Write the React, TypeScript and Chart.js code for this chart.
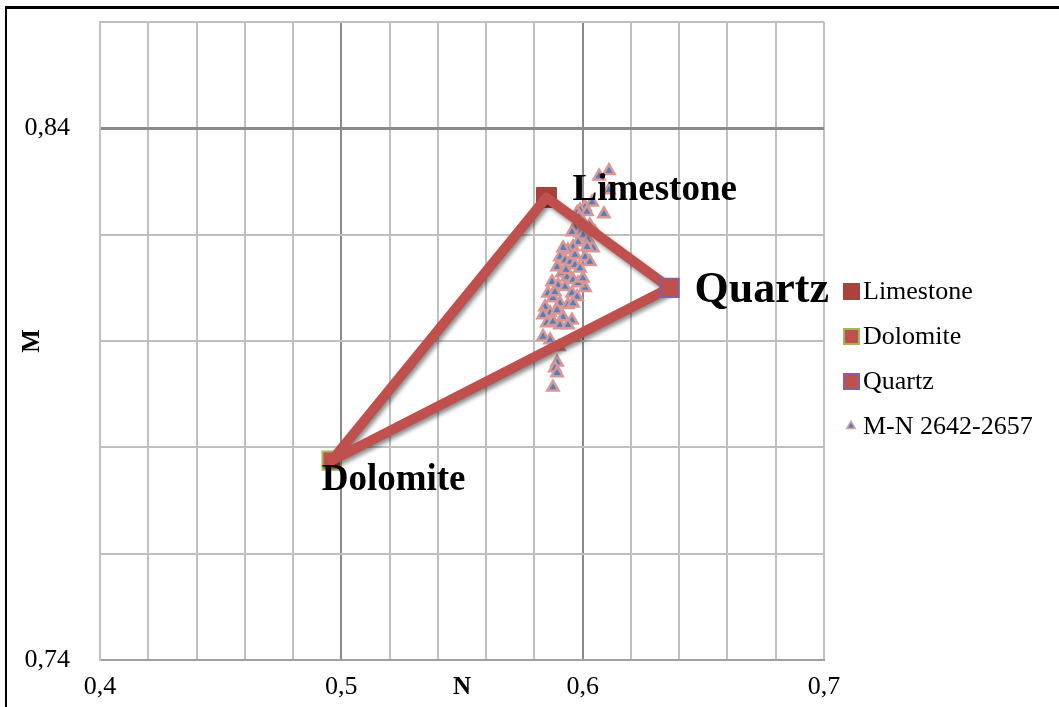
import React, { useEffect, useRef } from "react";
import { Chart, registerables } from "chart.js";

Chart.register(...registerables);

const SERIF = "'Liberation Serif', 'Times New Roman', serif";

// End-member minerals (N, M)
const limestoneN = [0.585];
const limestoneM = [0.827];
const dolomiteN = [0.496];
const dolomiteM = [0.7775];
const quartzN = [0.636];
const quartzM = [0.81];

// Samples M-N 2642-2657
const sampleN = [
  0.6109, 0.6068, 0.6109, 0.6039, 0.6088, 0.601, 0.5989, 0.6018, 0.5977, 0.5985,
  0.6001, 0.5968, 0.5956, 0.5989, 0.6001, 0.6022, 0.6043, 0.5981, 0.596, 0.5939,
  0.5919, 0.6018, 0.601, 0.5906, 0.5927, 0.5948, 0.5968, 0.5989, 0.601, 0.5894,
  0.5914, 0.5935, 0.596, 0.5981, 0.6001, 0.5873, 0.5898, 0.5927, 0.5956, 0.5977,
  0.5856, 0.5877, 0.5906, 0.5939, 0.596, 0.5844, 0.5865, 0.5894, 0.5919, 0.5956,
  0.5836, 0.5852, 0.5877, 0.5906, 0.5939, 0.5836, 0.5865, 0.5902, 0.5894, 0.5885,
  0.5894, 0.5877, 0.603, 0.6051, 0.5931, 0.5885, 0.5968, 0.603,
];
const sampleM = [
  0.832, 0.831, 0.8284, 0.8261, 0.8239, 0.8252, 0.8246, 0.8243, 0.8241, 0.8233,
  0.8224, 0.8213, 0.8205, 0.8203, 0.8199, 0.819, 0.8175, 0.8186, 0.8177, 0.8171,
  0.8175, 0.8177, 0.8158, 0.8158, 0.8152, 0.8149, 0.8143, 0.8137, 0.81, 0.8139,
  0.8128, 0.812, 0.8115, 0.8109, 0.8118, 0.8111, 0.8105, 0.8102, 0.809, 0.8083,
  0.809, 0.8081, 0.8071, 0.8068, 0.8071, 0.8064, 0.8053, 0.8058, 0.8045, 0.8039,
  0.8049, 0.8034, 0.8036, 0.803, 0.803, 0.8008, 0.8002, 0.7989, 0.796, 0.7949,
  0.794, 0.7913, 0.8218, 0.8205, 0.8134, 0.8092, 0.8162, 0.8149,
];

const xLabelValues = [0.4, 0.5, 0.6, 0.7];
const yLabelValues = [0.74, 0.84];
const xMajorGrid = [0.5, 0.6];
const yMajorGrid = [0.84];
const legendLabels = ["Limestone", "Dolomite", "Quartz", "M-N 2642-2657"];
const pointLabels = ["Limestone", "Quartz", "Dolomite"];

const near = (v: number, list: number[]) => list.some((t) => Math.abs(t - v) < 1e-6);
const fmt = (v: number) => String(Math.round(v * 100) / 100).replace(".", ",");

const LINE_RED = "#C0504D";

export default function App() {
  const ref = useRef<HTMLCanvasElement>(null);

  useEffect(() => {
    const canvas = ref.current!;
    const pts = (xs: number[], ys: number[]) => xs.map((x, i) => ({ x, y: ys[i] }));
    const L = { x: limestoneN[0], y: limestoneM[0] };
    const D = { x: dolomiteN[0], y: dolomiteM[0] };
    const Q = { x: quartzN[0], y: quartzM[0] };

    const shadowPlugin = {
      id: "lineShadow",
      beforeDatasetDraw(chart: any, args: any) {
        if (chart.data.datasets[args.index].label === "triangle") {
          const c = chart.ctx;
          c.save();
          c.shadowColor = "rgba(0,0,0,0.45)";
          c.shadowBlur = 4;
          c.shadowOffsetX = 2;
          c.shadowOffsetY = 3;
        }
      },
      afterDatasetDraw(chart: any, args: any) {
        if (chart.data.datasets[args.index].label === "triangle") {
          chart.ctx.restore();
        }
      },
    };

    const textPlugin = {
      id: "texts",
      afterDraw(chart: any) {
        const c = chart.ctx;
        const xs = chart.scales.x;
        const ys = chart.scales.y;
        const area = chart.chartArea;
        c.save();
        c.fillStyle = "#000";
        // point labels
        c.textBaseline = "middle";
        c.textAlign = "left";
        const spots = [
          { p: L, dx: 26, dy: -7, size: 37 },
          { p: Q, dx: 25, dy: 3, size: 44 },
          { p: D, dx: -10, dy: 20, size: 37 },
        ];
        spots.forEach((s, i) => {
          c.font = `bold ${s.size}px ${SERIF}`;
          c.fillText(pointLabels[i], xs.getPixelForValue(s.p.x) + s.dx, ys.getPixelForValue(s.p.y) + s.dy);
        });
        // axis titles
        c.font = `bold 25px ${SERIF}`;
        c.textAlign = "center";
        c.fillText("N", (area.left + area.right) / 2, 688);
        c.save();
        c.translate(33, (area.top + area.bottom) / 2);
        c.rotate(-Math.PI / 2);
        c.fillText("M", 0, 0);
        c.restore();
        // legend
        const lx = 843;
        const ly = [291, 336, 381, 426];
        c.font = `26px ${SERIF}`;
        c.textAlign = "left";
        legendLabels.forEach((lab, i) => {
          const y = ly[i];
          if (i < 3) {
            c.fillStyle = i === 0 ? "#AA423E" : LINE_RED;
            c.fillRect(lx, y - 8, 17, 17);
            if (i > 0) {
              c.strokeStyle = i === 1 ? "#9BBB59" : "#8064A2";
              c.lineWidth = 2;
              c.strokeRect(lx + 1, y - 7, 15, 15);
            }
          } else {
            const cx = 851, cy = y, r = 5;
            c.beginPath();
            c.moveTo(cx, cy - r);
            c.lineTo(cx + r * 0.866, cy + r * 0.5);
            c.lineTo(cx - r * 0.866, cy + r * 0.5);
            c.closePath();
            c.fillStyle = "#4F81BD";
            c.fill();
            c.strokeStyle = "#E0A3A2";
            c.lineWidth = 1.5;
            c.stroke();
          }
          c.fillStyle = "#000";
          c.fillText(lab, 863, y + 1);
        });
        c.restore();
      },
    };

    const chart = new Chart(canvas, {
      type: "scatter",
      data: {
        datasets: [
          {
            label: "triangle",
            data: [L, Q, D, L, Q],
            showLine: true,
            borderColor: LINE_RED,
            borderWidth: 10,
            borderJoinStyle: "round",
            pointRadius: 0,
            order: 1,
          } as any,
          {
            label: "Limestone",
            data: pts(limestoneN, limestoneM),
            pointStyle: "rect",
            pointRadius: 14,
            backgroundColor: "#AA423E",
            borderColor: "#A03C39",
            borderWidth: 1,
            order: 2,
          },
          {
            label: "Dolomite",
            data: pts(dolomiteN, dolomiteM),
            pointStyle: "rect",
            pointRadius: 13,
            backgroundColor: LINE_RED,
            borderColor: "#9BBB59",
            borderWidth: 2,
            order: 2,
          },
          {
            label: "Quartz",
            data: pts(quartzN, quartzM),
            pointStyle: "rect",
            pointRadius: 13,
            backgroundColor: LINE_RED,
            borderColor: "#8064A2",
            borderWidth: 2,
            order: 0,
          },
          {
            label: "M-N 2642-2657",
            data: pts(sampleN, sampleM),
            pointStyle: "triangle",
            pointRadius: 6.5,
            backgroundColor: "#4F81BD",
            borderColor: "#D99694",
            borderWidth: 2.5,
            order: 3,
          },
        ],
      },
      options: {
        responsive: false,
        animation: false,
        events: [],
        layout: { padding: { left: 0, top: 22, right: 235, bottom: 0 } },
        plugins: { legend: { display: false }, tooltip: { enabled: false } },
        scales: {
          x: {
            type: "linear",
            min: 0.4,
            max: 0.7,
            afterFit: (s: any) => {
              s.height = 47;
              s.paddingLeft = 0;
              s.paddingRight = 0;
              s.paddingTop = 0;
              s.paddingBottom = 0;
            },
            ticks: {
              stepSize: 0.02,
              autoSkip: false,
              maxRotation: 0,
              padding: 12,
              color: "#000",
              font: { family: SERIF, size: 26 },
              callback: (v: any) => (near(Number(v), xLabelValues) ? fmt(Number(v)) : ""),
            },
            grid: {
              drawTicks: false,
              color: (ctx: any) => (near(ctx.tick?.value, xMajorGrid) ? "#8A8A8A" : "#C0C0C0"),
              lineWidth: 2,
            },
            border: { color: "#A0A0A0", width: 2 },
          },
          y: {
            type: "linear",
            min: 0.74,
            max: 0.86,
            afterFit: (s: any) => {
              s.width = 100;
              s.paddingLeft = 0;
              s.paddingRight = 0;
              s.paddingTop = 0;
              s.paddingBottom = 0;
            },
            ticks: {
              stepSize: 0.02,
              autoSkip: false,
              padding: 30,
              color: "#000",
              font: { family: SERIF, size: 26 },
              callback: (v: any) => (near(Number(v), yLabelValues) ? fmt(Number(v)) : ""),
            },
            grid: {
              drawTicks: false,
              color: (ctx: any) => (near(ctx.tick?.value, yMajorGrid) ? "#8A8A8A" : "#C0C0C0"),
              lineWidth: (ctx: any) => (near(ctx.tick?.value, yMajorGrid) ? 3 : 2),
            },
            border: { color: "#C0C0C0", width: 2 },
          },
        },
      },
      plugins: [shadowPlugin, textPlugin],
    });
    return () => chart.destroy();
  }, []);

  return (
    <div
      style={{
        position: "fixed",
        left: 0,
        top: 0,
        width: 1059,
        height: 707,
        overflow: "hidden",
        background: "#fff",
      }}
    >
      <canvas
        ref={ref}
        width={1059}
        height={707}
        style={{ position: "absolute", left: 0, top: 0, width: 1059, height: 707 }}
      />
      <div
        style={{
          position: "absolute",
          left: 5,
          top: 6,
          width: 2000,
          height: 2000,
          borderLeft: "2px solid #000",
          borderTop: "3px solid #000",
          pointerEvents: "none",
        }}
      />
    </div>
  );
}
